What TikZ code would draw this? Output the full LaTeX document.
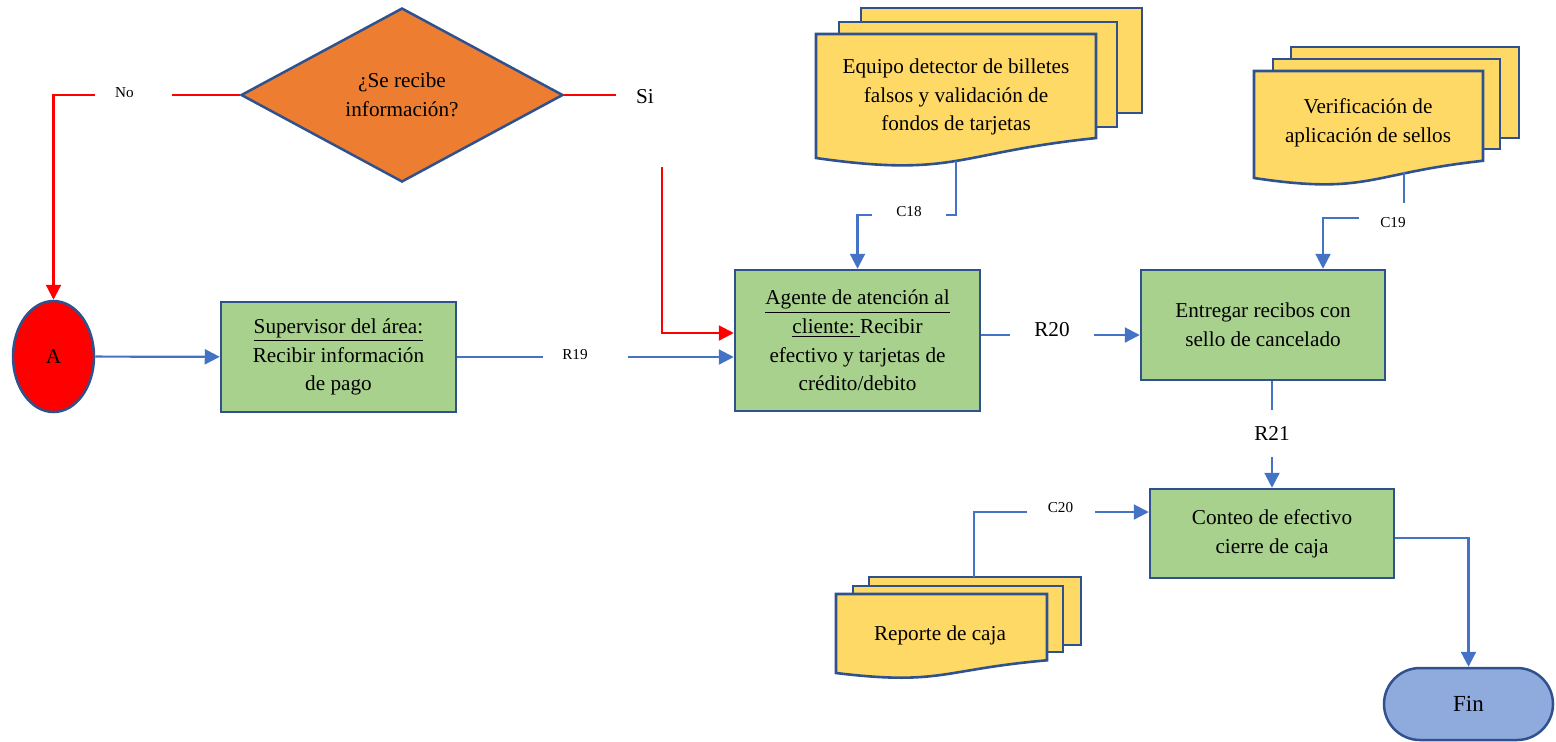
\documentclass[tikz,border=0pt]{standalone}
\usepackage{fontspec}
\setmainfont{Liberation Serif}
\usetikzlibrary{arrows.meta,shapes.geometric,shapes.misc}

\definecolor{edgeblue}{HTML}{2F528F}
\definecolor{flowblue}{HTML}{4472C4}
\definecolor{procgreen}{HTML}{A9D18E}
\definecolor{docyellow}{HTML}{FFD966}
\definecolor{decorange}{HTML}{ED7D31}
\definecolor{endblue}{HTML}{8FAADC}
\definecolor{alertred}{HTML}{FF0000}

% one front sheet of a document stack, wavy bottom edge
% #1 left x, #2 top y, #3 right x, #4 y of the bottom-left corner
\newcommand{\wavepage}[4]{%
  \draw[page] (#1,#2) -- (#3,#2) -- (#3,{#2+0.839*(#4-#2)})
    .. controls ({(#1+#3)/2},{#2+0.9556*(#4-#2)}) and ({(#1+#3)/2},{#2+1.161*(#4-#2)}) .. (#1,#4) -- cycle;}

\begin{document}
\begin{tikzpicture}[x=0.5pt,y=-0.5pt,
  bodytext/.style={font=\fontsize{10.6}{14.3}\selectfont},
  box/.style={draw=edgeblue,line width=1.25pt,fill=procgreen,align=center,inner sep=0pt,bodytext},
  page/.style={draw=edgeblue,line width=1.3pt,fill=docyellow},
  doctext/.style={align=center,inner sep=0pt,bodytext},
  decision/.style={diamond,draw=edgeblue,line width=1.25pt,fill=decorange,align=center,inner sep=0pt,
    minimum width=161pt,minimum height=87pt,bodytext},
  startnode/.style={ellipse,draw=edgeblue,line width=1.25pt,fill=alertred,inner sep=0pt,
    minimum width=40.5pt,minimum height=55.5pt,bodytext},
  endnode/.style={rounded rectangle,draw=edgeblue,line width=1.25pt,fill=endblue,inner sep=0pt,
    minimum width=84.5pt,minimum height=36pt,font=\fontsize{11.5}{14}\selectfont},
  flow/.style={line width=1.1pt,draw=flowblue,-{Triangle[length=7.5pt,width=7.5pt]}},
  redflow/.style={line width=1.1pt,draw=alertred,-{Triangle[length=7.5pt,width=7.5pt]}},
  smalllbl/.style={fill=white,inner sep=0pt,font=\fontsize{7.6}{9}\selectfont},
  midlbl/.style={fill=white,inner sep=0pt,font=\fontsize{10.6}{12}\selectfont}]

\useasboundingbox (0,0) rectangle (1556,741);

% ---- decision and process shapes
\node[decision] (dec) at (402,95) {¿Se recibe\\información?};
\node[startnode] (A) at (53.5,356.5) {A};
\node[box,minimum width=117.5pt,minimum height=55pt] (sup) at (338.5,357)
  {\underline{Supervisor del área:}\\Recibir información\\de pago};
\node[box,minimum width=122.5pt,minimum height=70.5pt] (agent) at (857.5,340.5)
  {\underline{Agente de atención al}\\\underline{cliente:\ }Recibir\\efectivo y tarjetas de\\crédito/debito};
\node[box,minimum width=122pt,minimum height=55pt] (deliver) at (1263,325)
  {Entregar recibos con\\sello de cancelado};
\node[box,minimum width=122pt,minimum height=44.5pt] (count) at (1272,533.5)
  {Conteo de efectivo\\cierre de caja};
\node[endnode] (fin) at (1468.5,704) {Fin};

% ---- document stacks
\draw[page] (861,8) rectangle (1142,113);
\draw[page] (839,22) rectangle (1117,127);
\wavepage{816}{34}{1096}{158}
\node[doctext] (detector) at (956,97)
  {Equipo detector de billetes\\falsos y validación de\\fondos de tarjetas};
\coordinate (detout) at (956,160.9);

\draw[page] (1291,47) rectangle (1519,138);
\draw[page] (1273,59) rectangle (1500,149);
\wavepage{1254}{71}{1483}{178}
\node[doctext] (stamps) at (1368,123) {Verificación de\\aplicación de sellos};
\coordinate (stampout) at (1404,172);

\draw[page] (869,577) rectangle (1081,645);
\draw[page] (853,586) rectangle (1063,652);
\wavepage{836}{594}{1047}{673}
\node[doctext] (report) at (940,635) {Reporte de caja};
\coordinate (reportout) at (974,577);

% ---- connectors
\draw[redflow] (dec.west) -| (A.north);
\coordinate (sibend) at (662,95);
\draw[redflow] (dec.east) -- (sibend) |- ([yshift=3.75pt]agent.west);
\draw[flow] (A) -- (sup);
\draw[flow] (sup.east) -- (sup.east -| agent.west);
\draw[flow] ([yshift=2.75pt]agent.east) -- ([yshift=2.75pt]agent.east -| deliver.west);
\draw[flow] (detout) -- ++(0,54) -| (agent.north);
\draw[flow] (stampout) -- ++(0,46) -| ([xshift=30pt]deliver.north);
\draw[flow] (deliver.south -| count.north) -- (count.north);
\draw[flow] (reportout) |- ([yshift=10.75pt]count.west);
\draw[flow] ([yshift=-2.25pt]count.east) -| (fin.north);

% ---- connector labels
\node[smalllbl,minimum width=38.5pt,minimum height=8pt] (lblno) at (133.5,93) {No\kern9pt};
\node[midlbl,minimum width=29pt,minimum height=70pt] (lblsi) at (645,97) {Si};
\node[smalllbl,minimum width=42.5pt,minimum height=8pt] (lblr19) at (585.5,355) {R19\kern10.5pt};
\node[midlbl,minimum width=42pt,minimum height=12pt] (lblr20) at (1052,330) {R20};
\node[midlbl,minimum width=20pt,minimum height=23.5pt] (lblr21) at (1272,433.5) {R21};
\node[smalllbl,minimum width=37pt,minimum height=8pt] (lblc18) at (909,212) {C18};
\node[smalllbl,minimum width=34pt,minimum height=20pt] (lblc19) at (1393,223) {C19};
\node[smalllbl,minimum width=34pt,minimum height=8pt] (lblc20) at (1060.5,508) {C20};

\end{tikzpicture}
\end{document}
